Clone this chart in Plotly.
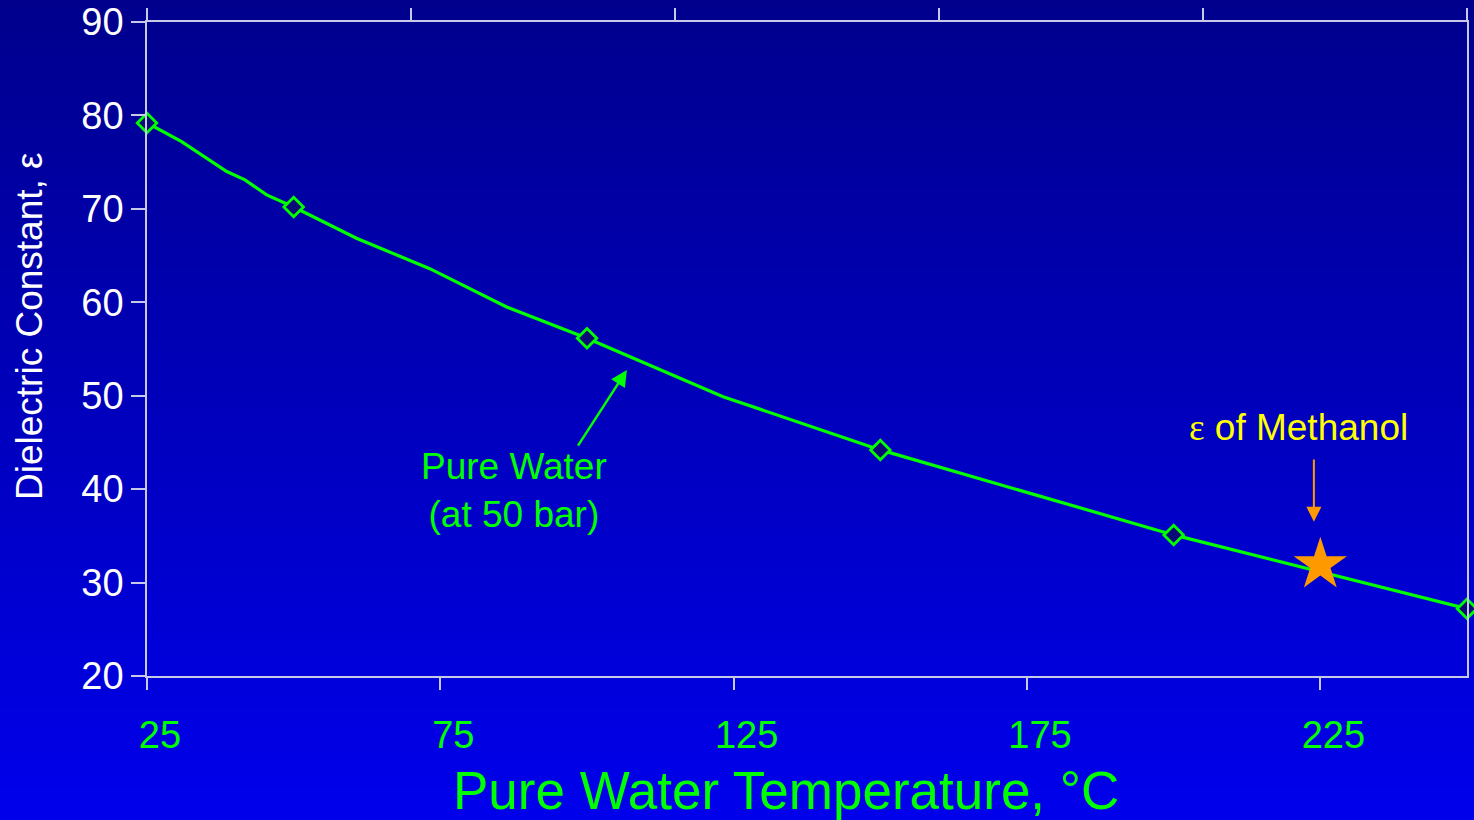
import plotly.graph_objects as go

# Dielectric constant of pure water at 50 bar versus temperature
temp_curve = [25, 30.9, 38.6, 41.7, 45.4, 50, 60.7, 73.2, 86.3, 100, 123.2, 150, 200, 250]
eps_curve = [79.2, 77.2, 74.0, 73.1, 71.5, 70.2, 66.85, 63.6, 59.5, 56.15, 49.9, 44.2, 35.1, 27.2]

# Tabulated points shown with markers
temp_marked = [25, 50, 100, 150, 200, 250]
eps_marked = [79.2, 70.2, 56.15, 44.2, 35.1, 27.2]

# Methanol reference point
methanol_temp = [225]
methanol_eps = [31.9]

x_ticks = [25, 75, 125, 175, 225]
y_ticks = [20, 30, 40, 50, 60, 70, 80, 90]
top_ticks = [0, 1, 2, 3, 4, 5]

W, H = 1474, 820
L, R, T, B = 147, 7, 22, 144
pw, ph = W - L - R, H - T - B

FONT = "Liberation Sans, Arial, sans-serif"
GREEN = "#00FF00"
ORANGE = "#FF9900"
YELLOW = "#FFFF00"
AXIS = "#C8C8E8"

fig = go.Figure()

fig.add_trace(go.Scatter(
    x=temp_curve, y=eps_curve, mode="lines",
    line=dict(color=GREEN, width=3.2), hoverinfo="skip", showlegend=False,
))
fig.add_trace(go.Scatter(
    x=temp_marked, y=eps_marked, mode="markers",
    marker=dict(symbol="diamond", size=15, color="#0B0B78",
                line=dict(color=GREEN, width=2.8)),
    cliponaxis=False, showlegend=False,
))
fig.add_trace(go.Scatter(
    x=methanol_temp, y=methanol_eps, mode="markers",
    marker=dict(symbol="star", size=40, color=ORANGE, line=dict(width=0)),
    cliponaxis=False, showlegend=False,
))

# vertical background gradient, dark navy to bright blue
shapes = []
n_bands = 82
for i in range(n_bands):
    y0 = i * H / n_bands
    y1 = (i + 1) * H / n_bands
    frac = (i + 0.5) / n_bands
    b = int(round(140 + (236 - 140) * frac))
    shapes.append(dict(
        type="rect", layer="below", xref="paper", yref="paper",
        x0=(0 - L) / pw, x1=(W - L) / pw,
        y0=(H - B - y1) / ph, y1=(H - B - y0) / ph + 0.002,
        fillcolor=f"rgb(0,0,{b})", line=dict(width=0),
    ))

annotations = [
    dict(x=87.5, y=39.9, xref="x", yref="y", showarrow=False,
         text="Pure Water<br>(at 50 bar)", font=dict(family=FONT, size=37, color=GREEN),
         align="center", xanchor="center", yanchor="middle"),
    dict(x=106.8, y=52.75, ax=98.3, ay=44.5, xref="x", yref="y", axref="x", ayref="y",
         text="", showarrow=True, arrowhead=2, arrowsize=1.3, arrowwidth=2.5,
         arrowcolor=GREEN),
    dict(x=221.2, y=46.55, xref="x", yref="y", showarrow=False,
         text='<span style="font-family:Liberation Serif, Times New Roman, serif">ε</span> of Methanol',
         font=dict(family=FONT, size=37, color=YELLOW),
         xanchor="center", yanchor="middle"),
    dict(x=223.9, y=36.5, ax=223.9, ay=43.33, xref="x", yref="y", axref="x", ayref="y",
         text="", showarrow=True, arrowhead=2, arrowsize=1.5, arrowwidth=2,
         arrowcolor=ORANGE),
    dict(x=(30 - L) / pw, y=(H - B - 326) / ph, xref="paper", yref="paper",
         text="Dielectric Constant, ε", textangle=-90, showarrow=False,
         font=dict(family=FONT, size=37, color="white"),
         xanchor="center", yanchor="middle"),
    dict(x=(786 - L) / pw, y=(H - B - 790) / ph, xref="paper", yref="paper",
         text="Pure Water Temperature, °C", showarrow=False,
         font=dict(family=FONT, size=53, color=GREEN),
         xanchor="center", yanchor="middle"),
]

fig.update_layout(
    width=W, height=H,
    margin=dict(l=L, r=R, t=T, b=B, pad=0, autoexpand=False),
    paper_bgcolor="rgb(0,0,188)",
    plot_bgcolor="rgba(0,0,0,0)",
    shapes=shapes,
    annotations=annotations,
    showlegend=False,
    xaxis=dict(
        range=[25, 250], tickvals=x_ticks, ticktext=[str(v) for v in x_ticks],
        ticks="outside", ticklen=12, tickwidth=1.5, tickcolor=AXIS,
        showline=True, linecolor=AXIS, linewidth=1.5, mirror=False,
        showgrid=False, zeroline=False, automargin=False,
        tickfont=dict(family=FONT, size=38, color=GREEN),
        ticklabelshift=13, ticklabelstandoff=13,
    ),
    xaxis2=dict(
        range=[0, 5], tickvals=top_ticks, overlaying="x", side="top",
        ticks="outside", ticklen=12, tickwidth=1.5, tickcolor=AXIS,
        showline=True, linecolor=AXIS, linewidth=1.5, automargin=False,
        showticklabels=False, showgrid=False, zeroline=False,
    ),
    yaxis=dict(
        range=[20, 90], tickvals=y_ticks,
        ticks="outside", ticklen=14, tickwidth=1.5, tickcolor=AXIS,
        showline=True, linecolor=AXIS, linewidth=1.5, mirror=True,
        showgrid=False, zeroline=False, automargin=False,
        tickfont=dict(family=FONT, size=38, color="white"),
    ),
)

fig.add_trace(go.Scatter(x=[0, 5], y=[20, 20], xaxis="x2", mode="lines",
                         line=dict(width=0), hoverinfo="skip", showlegend=False))

fig.write_html("out.html")
